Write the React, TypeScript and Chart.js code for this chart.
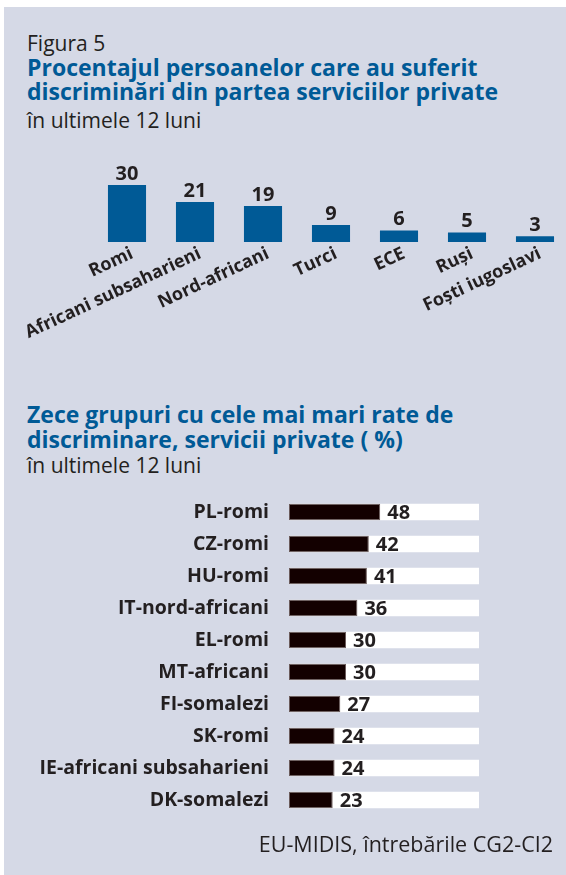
import React, { useEffect, useRef } from "react";
import { Chart, registerables } from "chart.js";

Chart.register(...registerables);

const groupCategories = ["Romi", "Africani subsaharieni", "Nord-africani", "Turci", "ECE", "Ruși", "Foști iugoslavi"];
const groupValues = [30, 21, 19, 9, 6, 5, 3];

const topCategories = [
  "PL-romi",
  "CZ-romi",
  "HU-romi",
  "IT-nord-africani",
  "EL-romi",
  "MT-africani",
  "FI-somalezi",
  "SK-romi",
  "IE-africani subsaharieni",
  "DK-somalezi",
];
const topValues = [48, 42, 41, 36, 30, 30, 27, 24, 24, 23];
const trackValues = [100, 100, 100, 100, 100, 100, 100, 100, 100, 100];

const FONT = "'Open Sans', 'Noto Sans', sans-serif";
const TEXT = "#231f20";
const BLUE = "#005a96";
const BG = "#d5d9e6";

const App: React.FC = () => {
  const c1 = useRef<HTMLCanvasElement>(null);
  const c2 = useRef<HTMLCanvasElement>(null);

  useEffect(() => {
    const labelPlugin1 = {
      id: "vals1",
      afterDatasetsDraw(chart: any) {
        const ctx = chart.ctx;
        const meta = chart.getDatasetMeta(0);
        ctx.save();
        ctx.font = `bold 20px ${FONT}`;
        ctx.fillStyle = TEXT;
        ctx.textAlign = "center";
        ctx.textBaseline = "bottom";
        meta.data.forEach((el: any, i: number) => {
          ctx.fillText(String(groupValues[i]), el.x, el.y - 1);
        });
        ctx.restore();
      },
    };
    const chart1 = new Chart(c1.current!, {
      type: "bar",
      data: {
        labels: groupCategories,
        datasets: [
          {
            data: groupValues,
            backgroundColor: BLUE,
            borderWidth: 0,
            categoryPercentage: 1,
            barPercentage: 0.56,
          },
        ],
      },
      options: {
        animation: false,
        responsive: false,
        maintainAspectRatio: false,
        layout: { padding: { left: 93, right: 31, top: 26, bottom: 0 } },
        plugins: { legend: { display: false }, tooltip: { enabled: false } },
        scales: {
          x: {
            grid: { display: false, drawTicks: false },
            border: { display: false },
            ticks: {
              autoSkip: false,
              maxRotation: 25,
              minRotation: 25,
              padding: 1,
              labelOffset: 5,
              color: TEXT,
              font: { family: FONT, size: 18, weight: "bold" },
            },
            afterFit: (s: any) => {
              s.height = 98;
              s.paddingLeft = 0;
              s.paddingRight = 0;
            },
          },
          y: { display: false, min: 0, max: 40 },
        },
      },
      plugins: [labelPlugin1],
    } as any);

    const labelPlugin2 = {
      id: "vals2",
      afterDatasetsDraw(chart: any) {
        const ctx = chart.ctx;
        const meta = chart.getDatasetMeta(0);
        ctx.save();
        ctx.font = `bold 20px ${FONT}`;
        ctx.fillStyle = TEXT;
        ctx.textAlign = "left";
        ctx.textBaseline = "middle";
        meta.data.forEach((el: any, i: number) => {
          ctx.fillText(String(topValues[i]), el.x + 7, el.y + 1);
        });
        ctx.restore();
      },
    };
    const chart2 = new Chart(c2.current!, {
      type: "bar",
      data: {
        labels: topCategories,
        datasets: [
          {
            data: topValues,
            backgroundColor: "#130000",
            borderColor: "#6b5b5b",
            borderWidth: 1,
            borderSkipped: false,
            categoryPercentage: 1,
            barPercentage: 0.52,
            order: 0,
          },
          {
            data: trackValues,
            backgroundColor: "#ffffff",
            borderWidth: 0,
            categoryPercentage: 1,
            barPercentage: 0.52,
            order: 1,
          },
        ],
      },
      options: {
        indexAxis: "y",
        animation: false,
        responsive: false,
        maintainAspectRatio: false,
        layout: { padding: { left: 0, right: 87, top: 16, bottom: 14 } },
        plugins: { legend: { display: false }, tooltip: { enabled: false } },
        scales: {
          x: { display: false, min: 0, max: 100, stacked: false },
          y: {
            stacked: true,
            grid: { display: false, drawTicks: false },
            border: { display: false },
            ticks: {
              padding: 20,
              color: TEXT,
              font: { family: FONT, size: 19.5, weight: "bold" },
            },
            afterFit: (s: any) => {
              s.width = 289;
              s.paddingTop = 0;
              s.paddingBottom = 0;
            },
          },
        },
      },
      plugins: [labelPlugin2],
    } as any);

    return () => {
      chart1.destroy();
      chart2.destroy();
    };
  }, []);

  const abs = (o: React.CSSProperties): React.CSSProperties => ({ position: "absolute", margin: 0, whiteSpace: "nowrap", ...o });

  return (
    <div style={{ position: "fixed", left: 0, top: 0, width: 566, height: 875, background: "#fff", overflow: "hidden", fontFamily: FONT }}>
      <div style={abs({ left: 4, top: 7, width: 562, height: 868, background: BG })} />
      <div style={abs({ left: 27, top: 31, fontSize: 21, lineHeight: "24px", color: TEXT })}>Figura 5</div>
      <div style={abs({ left: 27, top: 55, fontSize: 23, lineHeight: "24px", fontWeight: 700, color: BLUE })}>
        Procentajul persoanelor care au suferit
        <br />
        discriminări din partea serviciilor private
      </div>
      <div style={abs({ left: 27, top: 108, fontSize: 21, lineHeight: "24px", color: TEXT })}>în ultimele 12 luni</div>

      <canvas ref={c1} width={600} height={200} style={{ position: "absolute", left: 0, top: 140, width: 600, height: 200 }} />

      <div style={abs({ left: 27, top: 402, fontSize: 23, lineHeight: "25px", fontWeight: 700, color: BLUE })}>
        Zece grupuri cu cele mai mari rate de
        <br />
        discriminare, servicii private ( %)
      </div>
      <div style={abs({ left: 27, top: 453, fontSize: 21, lineHeight: "24px", color: TEXT })}>în ultimele 12 luni</div>

      <canvas ref={c2} width={566} height={350} style={{ position: "absolute", left: 0, top: 480, width: 566, height: 350 }} />

      <div style={abs({ right: 13, top: 832, fontSize: 21.5, lineHeight: "24px", color: TEXT })}>EU-MIDIS, întrebările CG2-CI2</div>
    </div>
  );
};

export default App;
